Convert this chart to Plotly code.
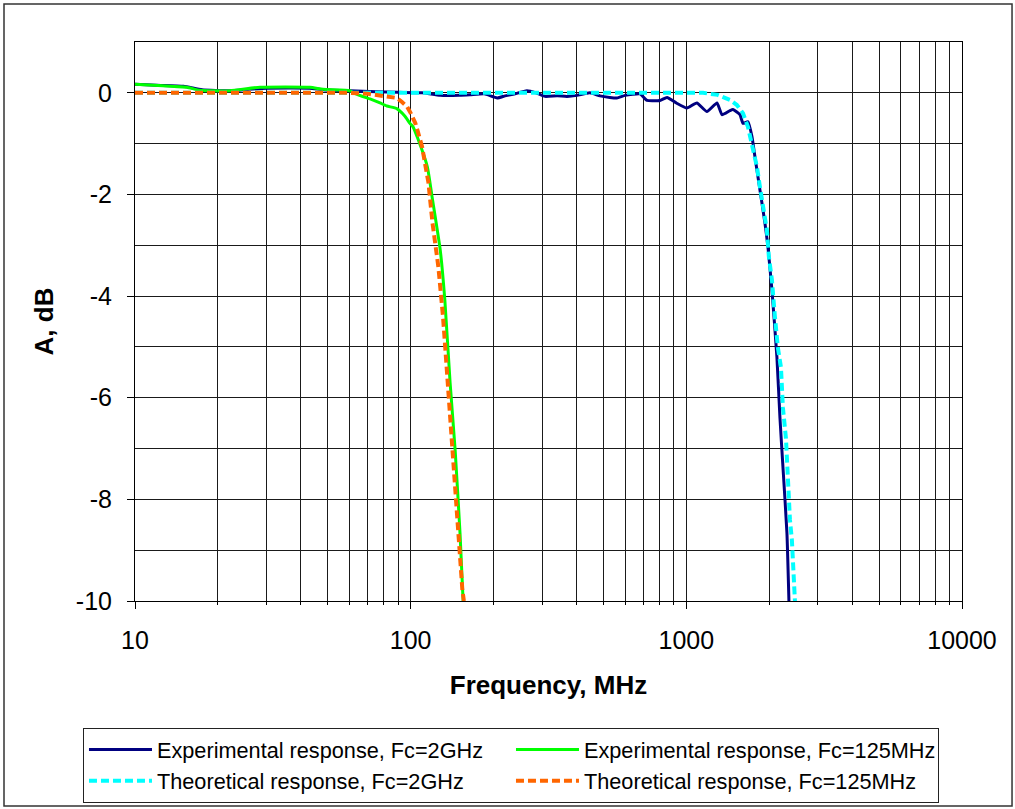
import plotly.graph_objects as go

# ---- Data (frequency in MHz, attenuation in dB) ----
exp2g_f = [10, 12, 15, 17.5, 22, 26, 30, 43, 48, 60, 75, 90, 110, 128, 150, 164, 185, 206, 220,
           235, 264, 285, 307, 340, 369, 401, 447, 486, 528, 560, 600, 679, 720, 802, 851, 920,
           1005, 1092, 1188, 1292, 1347, 1439, 1476, 1565, 1605, 1673, 1730, 1774, 1849, 1928,
           1977, 2044, 2131, 2186, 2241, 2317, 2356]
exp2g_db = [0.17, 0.15, 0.13, 0.06, 0.04, 0.07, 0.09, 0.09, 0.06, 0.04, 0.02, 0.01, 0.0, -0.05,
            -0.05, -0.04, -0.02, -0.1, -0.06, -0.03, 0.04, 0.0, -0.07, -0.06, -0.07, -0.05, 0.0,
            -0.06, -0.09, -0.1, -0.05, -0.02, -0.15, -0.15, -0.09, -0.2, -0.3, -0.2, -0.37, -0.2,
            -0.43, -0.35, -0.33, -0.43, -0.6, -0.57, -0.86, -1.26, -1.91, -2.56, -3.03, -3.88,
            -5.2, -6.4, -7.36, -8.66, -10.0]

exp125_f = [10, 12.6, 15.4, 17.2, 22.1, 28.4, 43.1, 48.1, 60.2, 62, 69.4, 71.2, 77.4, 82, 89,
            95, 99.4, 102, 106, 115, 120, 128, 133, 139, 145, 151, 155]
exp125_db = [0.17, 0.14, 0.11, 0.05, 0.04, 0.11, 0.11, 0.07, 0.04, 0.0, -0.1, -0.12, -0.2,
             -0.26, -0.31, -0.45, -0.6, -0.67, -0.89, -1.46, -2.1, -3.09, -4.07, -5.7, -7.03,
             -8.66, -10.0]

th2g_f = [10, 100, 500, 1000, 1150, 1300, 1439, 1526, 1605, 1673, 1744, 1804, 1849, 1896, 1960,
          1993, 2044, 2096, 2149, 2204, 2241, 2298, 2317, 2356, 2376, 2415, 2456, 2477]
th2g_db = [0, 0, 0, 0, 0, -0.04, -0.14, -0.24, -0.4, -0.67, -1.12, -1.46, -1.85, -2.24, -2.7,
           -3.23, -3.68, -4.41, -5.02, -5.4, -6.2, -6.8, -7.2, -8.0, -8.4, -8.8, -9.6, -10.0]

th125_f = [10, 30, 60, 70, 82, 89, 93, 97, 100, 104, 106, 110, 116, 120, 126, 131, 135, 139,
           145, 150, 154, 156]
th125_db = [0, 0, 0, -0.02, -0.07, -0.1, -0.18, -0.27, -0.4, -0.6, -0.75, -1.06, -1.77, -2.56,
            -3.42, -4.4, -5.39, -6.38, -7.56, -8.86, -9.78, -10.0]

x_ticks = [10, 100, 1000, 10000]
x_ticklabels = ["10", "100", "1000", "10000"]
y_ticks = [-10, -8, -6, -4, -2, 0]
y_ticklabels = ["-10", "-8", "-6", "-4", "-2", "0"]

FONT = "Liberation Sans, Arial, sans-serif"
GRID = "#1a1a1a"

fig = go.Figure()
fig.add_trace(go.Scatter(x=exp2g_f, y=exp2g_db, mode="lines",
                         name="Experimental response, Fc=2GHz",
                         line=dict(color="#000080", width=3, shape="spline", smoothing=0.45)))
fig.add_trace(go.Scatter(x=exp125_f, y=exp125_db, mode="lines",
                         name="Experimental response, Fc=125MHz",
                         line=dict(color="#00FF00", width=3, shape="spline", smoothing=0.45)))
fig.add_trace(go.Scatter(x=th2g_f, y=th2g_db, mode="lines",
                         name="Theoretical response, Fc=2GHz",
                         line=dict(color="#00FFFF", width=4, dash="8px,4px")))
fig.add_trace(go.Scatter(x=th125_f, y=th125_db, mode="lines",
                         name="Theoretical response, Fc=125MHz",
                         line=dict(color="#FF6600", width=4, dash="8px,4px")))

fig.update_layout(
    width=1015, height=809,
    margin=dict(l=135, r=53, t=42, b=208, autoexpand=False),
    paper_bgcolor="white", plot_bgcolor="white",
    font=dict(family=FONT, color="black"),
    showlegend=True,
    legend=dict(orientation="h", x=-0.0629, y=-0.2272, xanchor="left", yanchor="top",
                bordercolor="#222", borderwidth=1, bgcolor="white",
                font=dict(family=FONT, size=21.7, color="black"),
                itemwidth=63,
                entrywidth=349, entrywidthmode="pixels", traceorder="normal",
                tracegroupgap=0),
    shapes=[dict(type="rect", xref="paper", yref="paper",
                 x0=-0.1584, x1=1.0605, y0=-0.3667, y1=1.068,
                 line=dict(color="#333", width=1.5), layer="below")],
)

fig.update_xaxes(
    type="log", range=[1, 4],
    tickvals=x_ticks, ticktext=x_ticklabels,
    tickfont=dict(family=FONT, size=25, color="black"),
    ticks="outside", ticklen=7, tickcolor="black", ticklabelstandoff=10,
    showgrid=True, gridcolor=GRID, gridwidth=1,
    minor=dict(dtick="D1", showgrid=True, gridcolor=GRID, gridwidth=1,
               ticks="outside", ticklen=3, tickcolor="black"),
    showline=True, linecolor="black", linewidth=1, mirror=True,
    zeroline=False,
    title=dict(text="<b>Frequency, MHz</b>", font=dict(family=FONT, size=26, color="black"),
               standoff=22),
)
fig.update_yaxes(
    range=[-10, 1], tickvals=y_ticks, ticktext=y_ticklabels,
    tickfont=dict(family=FONT, size=25, color="black"),
    ticks="outside", ticklen=7, tickcolor="black", ticklabelstandoff=10,
    showgrid=True, gridcolor=GRID, gridwidth=1,
    minor=dict(dtick=1, showgrid=True, gridcolor=GRID, gridwidth=1),
    showline=True, linecolor="black", linewidth=1, mirror=True,
    zeroline=False,
    title=dict(text="<b>A, dB</b>", font=dict(family=FONT, size=26, color="black"),
               standoff=14),
)

fig.write_html("out.html", config={"displayModeBar": False},
               post_script="document.body.style.margin='0';")
